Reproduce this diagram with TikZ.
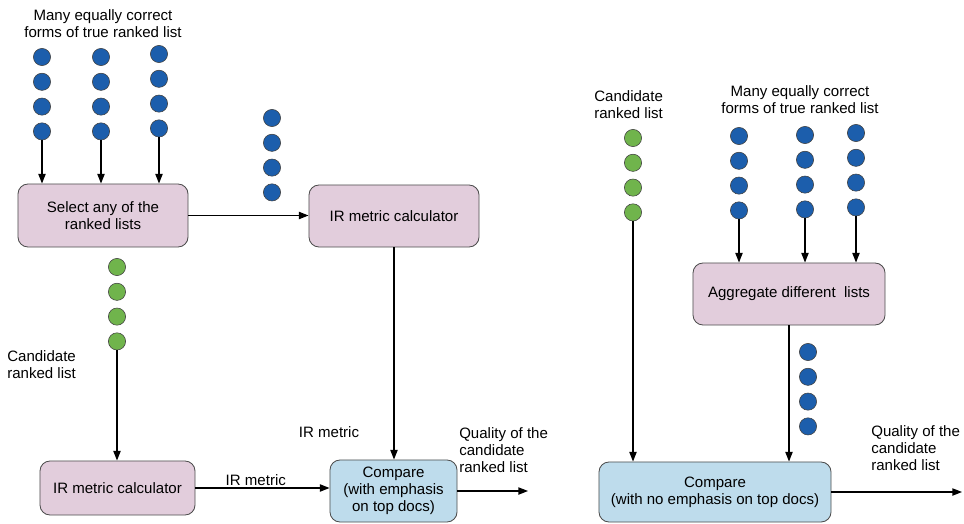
\documentclass[tikz,border=0pt]{standalone}
\usepackage{fontspec}
\setmainfont{Liberation Sans}
\usetikzlibrary{arrows.meta}
\definecolor{boxpink}{RGB}{226,205,220}
\definecolor{boxblue}{RGB}{190,220,236}
\definecolor{dotblue}{RGB}{28,94,172}
\definecolor{dotgreen}{RGB}{112,180,76}
\tikzset{
	box/.style={draw=black!70,line width=0.6pt,rounded corners=2.5mm,align=center,inner sep=0pt},
	dot/.style={circle,draw=black!75,line width=0.4pt,inner sep=0pt,minimum size=4.3mm},
	lbl/.style={align=left,inner sep=0pt},
	arr/.style={-{Triangle[length=2.4mm,width=1.8mm]},line width=0.9pt}
}

\begin{document}
\begin{tikzpicture}[x=0.025cm,y=-0.025cm,font=\fontsize{10.7pt}{12.1pt}\selectfont]
		\useasboundingbox (0,0) rectangle (964,524);
		\foreach \c/\x/\y in {a/42/57,b/101/57,c/159/54,d/272/118,e/739/136,f/805/135,g/856/133,h/808/352}
			\foreach \i in {1,...,4}
				\node[dot,fill=dotblue] (\c\i) at (\x,{\y+24.8*(\i-1)}) {};
		\foreach \c/\x/\y in {p/117/267,q/633/138}
			\foreach \i in {1,...,4}
				\node[dot,fill=dotgreen] (\c\i) at (\x,{\y+24.8*(\i-1)}) {};
		\node[align=center,inner sep=0pt] (titA) at (103,24) {Many equally correct\\forms of true ranked list};
		\node[align=center,inner sep=0pt] (titB) at (800,100) {Many equally correct\\forms of true ranked list};
		\node[box,fill=boxpink,minimum width=4.25cm,minimum height=1.575cm] (sel) at (103,215.5) {Select any of the\\ranked lists};
		\node[box,fill=boxpink,minimum width=4.25cm,minimum height=1.55cm] (irA) at (394,216) {IR metric calculator};
		\node[box,fill=boxpink,minimum width=3.875cm,minimum height=1.35cm] (irB) at (117.5,488) {IR metric calculator};
		\node[box,fill=boxblue,minimum width=3.175cm,minimum height=1.55cm] (cmpA) at (393.5,491) {Compare\\(with emphasis\\on top docs)};
		\node[box,fill=boxpink,minimum width=4.8cm,minimum height=1.55cm] (agg) at (789,294) {Aggregate different~ lists};
		\node[box,fill=boxblue,minimum width=5.8cm,minimum height=1.5cm] (cmpB) at (715,492) {Compare\\(with no emphasis on top docs)};
		\node[lbl,anchor=west] (candA) at (7,365) {Candidate\\ranked list};
		\node[lbl,anchor=west] (candB) at (594,105) {Candidate\\ranked list};
		\node[lbl] (irm) at (329,432) {IR metric};
		\node[lbl,anchor=west] (qualA) at (459,450) {Quality of the\\candidate\\ranked list};
		\node[lbl,anchor=west] (qualB) at (871,448) {Quality of the\\candidate\\ranked list};
		\coordinate (outA) at (528,491);
		\coordinate (outB) at (962,492);
		\draw[arr] (a4) -- (a4 |- sel.north);
		\draw[arr] (b4) -- (b4 |- sel.north);
		\draw[arr] (c4) -- (c4 |- sel.north);
		\draw[arr] (sel.east) -- (sel.east -| irA.west);
		\draw[arr] (irA) -- (irA |- cmpA.north);
		\draw[arr] (p4) -- (p4 |- irB.north);
		\draw[arr] (irB.east) -- node[above=1pt,pos=0.45,inner sep=0pt] {IR metric} (irB.east -| cmpA.west);
		\draw[arr] (cmpA.east) -- (outA);
		\draw[arr] (e4) -- (e4 |- agg.north);
		\draw[arr] (f4) -- (f4 |- agg.north);
		\draw[arr] (g4) -- (g4 |- agg.north);
		\draw[arr] (q4) -- (q4 |- cmpB.north);
		\draw[arr] (agg) -- (agg |- cmpB.north);
		\draw[arr] (cmpB.east) -- (outB);
\end{tikzpicture}
\end{document}
